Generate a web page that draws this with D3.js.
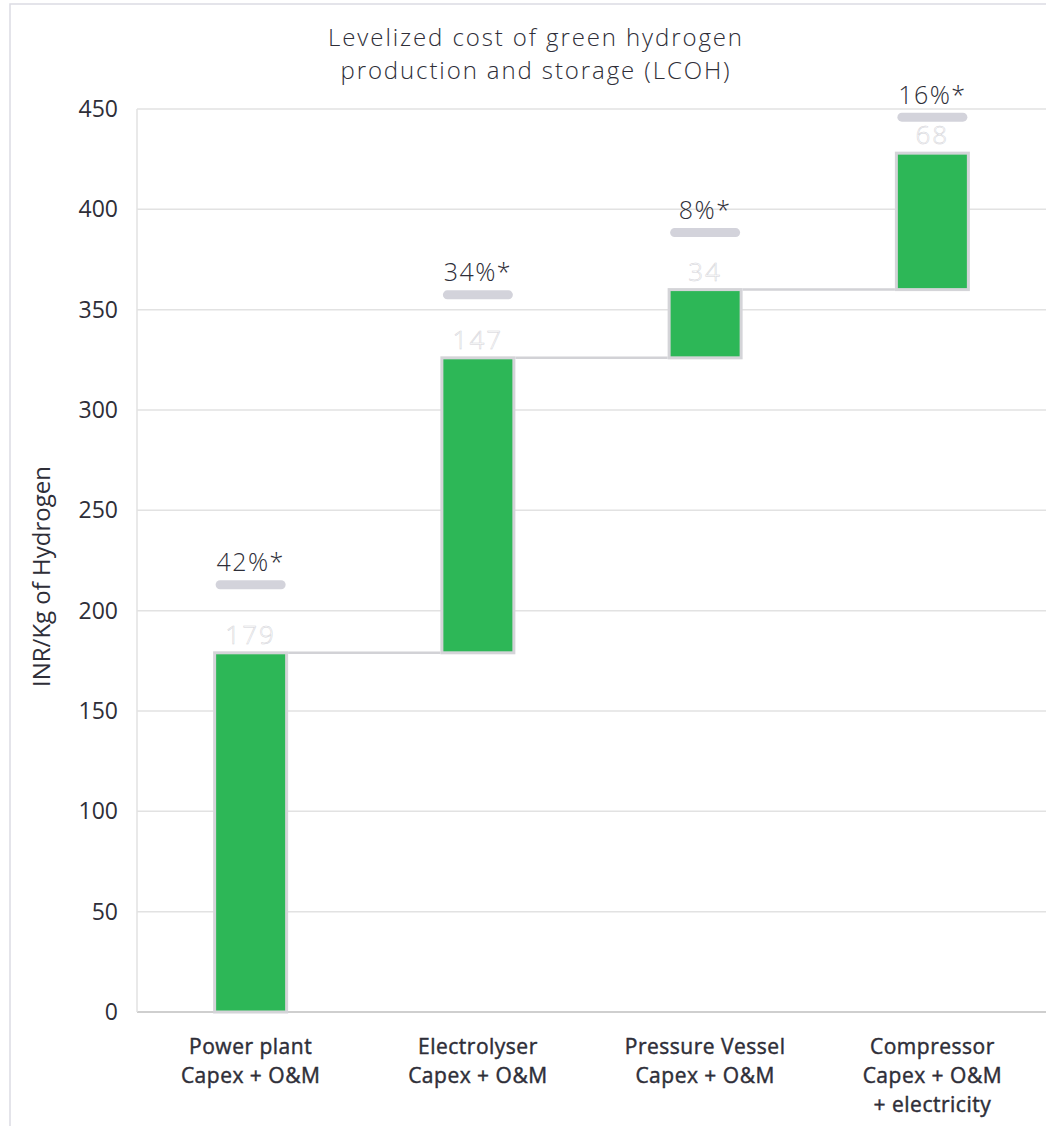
<!DOCTYPE html>
<html>
<head>
<meta charset="utf-8">
<script src="https://cdn.jsdelivr.net/npm/d3@7"></script>
<style>
  html, body { margin: 0; padding: 0; background: #fff; }
  svg { display: block; }
  text { font-family: "Open Sans", "Noto Sans", sans-serif; }
</style>
</head>
<body>
<svg id="chart" width="1046" height="1126"></svg>
<script>
// Waterfall components of the levelized cost of hydrogen (INR/kg)
const categories = [
  ["Power plant", "Capex + O&M"],
  ["Electrolyser", "Capex + O&M"],
  ["Pressure Vessel", "Capex + O&M"],
  ["Compressor", "Capex + O&M", "+ electricity"]
];
const values = [179, 147, 34, 68];
const shares = ["42%*", "34%*", "8%*", "16%*"];
const yTicks = [0, 50, 100, 150, 200, 250, 300, 350, 400, 450];

const title = ["Levelized cost of green hydrogen", "production and storage (LCOH)"];
const yTitle = "INR/Kg of Hydrogen";

// running totals for the floating bars
const steps = [];
let acc = 0;
values.forEach((v, i) => {
  steps.push({ i, start: acc, end: acc + v, value: v, share: shares[i], label: categories[i] });
  acc += v;
});

const svg = d3.select("#chart");
const plotLeft = 137, plotRight = 1046, plotTop = 109, plotBottom = 1012;
const ink = "#2e2e38";

const x = d3.scaleBand()
  .domain(d3.range(categories.length))
  .range([plotLeft, plotRight])
  .paddingInner(0.67)
  .paddingOuter(0.335);

const y = d3.scaleLinear().domain([0, 450]).range([plotBottom, plotTop]);

// outer frame
svg.append("path")
  .attr("d", "M10,1126 L10,4 L1046,4")
  .attr("fill", "none")
  .attr("stroke", "#dcdce3")
  .attr("stroke-width", 1.5);

// gridlines
svg.append("g")
  .selectAll("line")
  .data(yTicks)
  .join("line")
  .attr("x1", plotLeft).attr("x2", plotRight)
  .attr("y1", d => y(d)).attr("y2", d => y(d))
  .attr("stroke", d => d === 0 ? "#cfcfcf" : "#e2e2e2")
  .attr("stroke-width", d => d === 0 ? 2 : 1.5);

// vertical axis line
svg.append("line")
  .attr("x1", plotLeft).attr("x2", plotLeft)
  .attr("y1", y(450)).attr("y2", y(0))
  .attr("stroke", "#e2e2e2")
  .attr("stroke-width", 1.5);

// y axis tick labels
const yAxis = d3.axisLeft(y).tickValues(yTicks).tickSize(0).tickPadding(19);
const gy = svg.append("g").attr("transform", `translate(${plotLeft},0)`).call(yAxis);
gy.select(".domain").remove();
gy.selectAll("text")
  .attr("font-size", 23)
  .attr("fill", ink)
  .attr("font-family", "'Open Sans', sans-serif");

// y axis title
svg.append("text")
  .attr("transform", `translate(50,${(plotTop + plotBottom) / 2 + 16}) rotate(-90)`)
  .attr("text-anchor", "middle")
  .attr("font-size", 24)
  .attr("fill", ink)
  .text(yTitle);

// chart title
svg.append("g")
  .selectAll("text")
  .data(title)
  .join("text")
  .attr("x", 536)
  .attr("y", (d, i) => 46 + i * 33)
  .attr("text-anchor", "middle")
  .attr("font-size", 24)
  .attr("font-weight", 300)
  .attr("letter-spacing", 1.9)
  .attr("fill", ink)
  .text(d => d);

// connectors between consecutive bars
svg.append("g")
  .selectAll("line")
  .data(steps.slice(0, -1))
  .join("line")
  .attr("x1", d => x(d.i) + x.bandwidth())
  .attr("x2", d => x(d.i + 1))
  .attr("y1", d => y(d.end))
  .attr("y2", d => y(d.end))
  .attr("stroke", "#d2d2d6")
  .attr("stroke-width", 2.5);

// bars
const sw = 3;
svg.append("g")
  .selectAll("rect")
  .data(steps)
  .join("rect")
  .attr("x", d => x(d.i) + sw / 2)
  .attr("width", x.bandwidth() - sw)
  .attr("y", d => y(d.end))
  .attr("height", d => y(d.start) - y(d.end))
  .attr("fill", "#2db757")
  .attr("stroke", "#d4d4d8")
  .attr("stroke-width", sw);

// value labels (outlined) just above each bar
svg.append("g")
  .selectAll("text")
  .data(steps)
  .join("text")
  .attr("x", d => x(d.i) + x.bandwidth() / 2)
  .attr("y", d => y(d.end) - 9)
  .attr("text-anchor", "middle")
  .attr("font-size", 26)
  .attr("font-weight", 300)
  .attr("letter-spacing", 2)
  .attr("fill", "#ffffff")
  .attr("stroke", "#d2d2d7")
  .attr("stroke-width", 0.5)
  .text(d => d.value);

// share markers: grey pill with percentage above
const pillOffset = [68, 63, 57, 36];
const pillW = 70, pillH = 9;
const shareG = svg.append("g")
  .selectAll("g")
  .data(steps)
  .join("g")
  .attr("transform", d => `translate(${x(d.i) + x.bandwidth() / 2},${y(d.end) - pillOffset[d.i]})`);

shareG.append("rect")
  .attr("x", -pillW / 2)
  .attr("y", -pillH / 2)
  .attr("width", pillW)
  .attr("height", pillH)
  .attr("rx", pillH / 2)
  .attr("fill", "#d3d3db");

shareG.append("text")
  .attr("y", -pillH / 2 - 9)
  .attr("text-anchor", "middle")
  .attr("font-size", 25)
  .attr("font-weight", 300)
  .attr("letter-spacing", 1.5)
  .attr("fill", ink)
  .text(d => d.share);

// category labels (slightly heavier via a thin outline)
const xl = svg.append("g")
  .selectAll("text")
  .data(steps)
  .join("text")
  .attr("x", d => x(d.i) + x.bandwidth() / 2)
  .attr("y", 1054)
  .attr("text-anchor", "middle")
  .attr("font-size", 21)
  .attr("font-weight", 500)
  .attr("letter-spacing", 0.5)
  .attr("fill", ink)
  .attr("stroke", ink)
  .attr("stroke-width", 0.45);

xl.selectAll("tspan")
  .data(d => d.label.map(t => ({ t, cx: x(d.i) + x.bandwidth() / 2 })))
  .join("tspan")
  .attr("x", d => d.cx)
  .attr("dy", (d, j) => j === 0 ? 0 : 29)
  .text(d => d.t);
</script>
</body>
</html>
